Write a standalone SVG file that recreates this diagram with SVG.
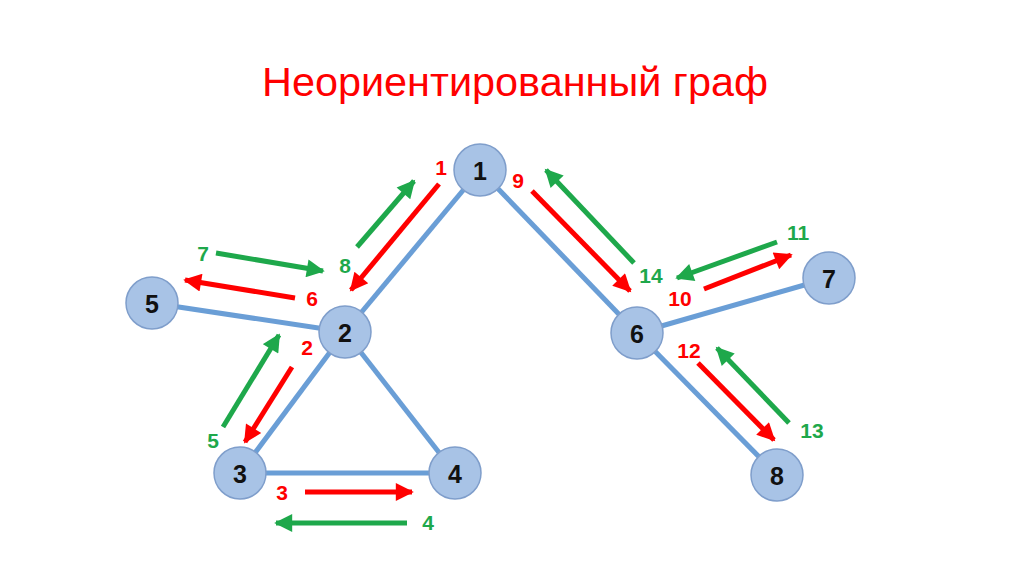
<svg xmlns="http://www.w3.org/2000/svg" width="1024" height="574" viewBox="0 0 1024 574">
<style>
.title{font-family:"Liberation Sans",Arial,sans-serif;font-size:41px;fill:#ff0000}
.edge{stroke:#6a9ed6;stroke-width:5;stroke-linecap:butt}
.node circle{fill:#a8c3e6;stroke:#7f9ecb;stroke-width:1.5}
.node text{font-family:"Liberation Sans",Arial,sans-serif;font-weight:bold;font-size:25px;fill:#111;text-anchor:middle;dominant-baseline:central}
.r{stroke:#ff0000;stroke-width:5;fill:none;marker-end:url(#hr)}
.g{stroke:#1ea84b;stroke-width:5;fill:none;marker-end:url(#hg)}
.lr,.lg{font-family:"Liberation Sans",Arial,sans-serif;font-weight:bold;font-size:21px;text-anchor:middle;dominant-baseline:central}
.lr{fill:#ff0000}
.lg{fill:#1ea84b}
</style>
<defs>
<marker id="hr" viewBox="0 0 10 10" refX="9" refY="5" markerWidth="4" markerHeight="3.6" orient="auto" markerUnits="strokeWidth"><path d="M0,0 L10,5 L0,10 z" fill="#ff0000"/></marker>
<marker id="hg" viewBox="0 0 10 10" refX="9" refY="5" markerWidth="4" markerHeight="3.6" orient="auto" markerUnits="strokeWidth"><path d="M0,0 L10,5 L0,10 z" fill="#1ea84b"/></marker>
</defs>
<rect width="1024" height="574" fill="#ffffff"/>
<text class="title" x="262" y="96" textLength="506" lengthAdjust="spacingAndGlyphs">Неориентированный граф</text>
<g id="edges">
<line class="edge" x1="480" y1="170" x2="345" y2="332"/>
<line class="edge" x1="480" y1="170" x2="637" y2="333"/>
<line class="edge" x1="152" y1="303" x2="345" y2="332"/>
<line class="edge" x1="345" y1="332" x2="240" y2="473"/>
<line class="edge" x1="345" y1="332" x2="455" y2="473"/>
<line class="edge" x1="240" y1="473" x2="455" y2="473"/>
<line class="edge" x1="637" y1="333" x2="829" y2="278"/>
<line class="edge" x1="637" y1="333" x2="777" y2="475"/>
</g>
<g id="connectors">
<line class="g" x1="357" y1="247" x2="414" y2="181"/>
<line class="r" x1="439" y1="184" x2="351" y2="290"/>
<line class="g" x1="216" y1="253" x2="323" y2="271"/>
<line class="r" x1="295" y1="298" x2="185" y2="280"/>
<line class="g" x1="223" y1="427" x2="279" y2="335"/>
<line class="r" x1="292" y1="367" x2="245" y2="442"/>
<line class="r" x1="305" y1="492" x2="412" y2="492"/>
<line class="g" x1="407" y1="523" x2="276" y2="523"/>
<line class="r" x1="532" y1="191" x2="630" y2="291"/>
<line class="g" x1="634" y1="263" x2="546" y2="170"/>
<line class="g" x1="777" y1="242" x2="677" y2="278"/>
<line class="r" x1="704" y1="289" x2="791" y2="255"/>
<line class="r" x1="698" y1="363" x2="774" y2="440"/>
<line class="g" x1="789" y1="423" x2="717" y2="348"/>
</g>
<g id="labels">
<text class="lr" x="441" y="167">1</text>
<text class="lg" x="345" y="265">8</text>
<text class="lg" x="203" y="253">7</text>
<text class="lr" x="312" y="298">6</text>
<text class="lr" x="307" y="347">2</text>
<text class="lg" x="213" y="440">5</text>
<text class="lr" x="282" y="492">3</text>
<text class="lg" x="428" y="522">4</text>
<text class="lr" x="518" y="180">9</text>
<text class="lg" x="651" y="275">14</text>
<text class="lg" x="798" y="232">11</text>
<text class="lr" x="680" y="298">10</text>
<text class="lr" x="689" y="350">12</text>
<text class="lg" x="812" y="430">13</text>
</g>
<g id="node1" class="node"><circle cx="480" cy="170" r="26"/><text x="480" y="171">1</text></g>
<g id="node2" class="node"><circle cx="345" cy="332" r="26"/><text x="345" y="333">2</text></g>
<g id="node3" class="node"><circle cx="240" cy="473" r="26"/><text x="240" y="474">3</text></g>
<g id="node4" class="node"><circle cx="455" cy="473" r="26"/><text x="455" y="474">4</text></g>
<g id="node5" class="node"><circle cx="152" cy="303" r="26"/><text x="152" y="304">5</text></g>
<g id="node6" class="node"><circle cx="637" cy="333" r="26"/><text x="637" y="334">6</text></g>
<g id="node7" class="node"><circle cx="829" cy="278" r="26"/><text x="829" y="279">7</text></g>
<g id="node8" class="node"><circle cx="777" cy="475" r="26"/><text x="777" y="476">8</text></g>
</svg>
